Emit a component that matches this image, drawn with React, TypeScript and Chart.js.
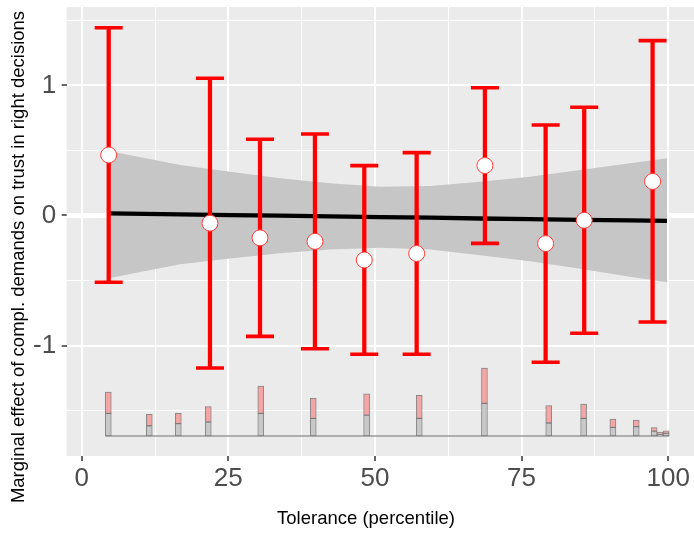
import { useEffect, useRef } from "react";
import { Chart, registerables } from "chart.js";

Chart.register(...registerables);

// axis ticks and titles
const xTicks = [0, 12.5, 25, 37.5, 50, 62.5, 75, 87.5, 100];
const xTickLabels = ["0", "", "25", "", "50", "", "75", "", "100"];
const yTicks = [-1.5, -1, -0.5, 0, 0.5, 1, 1.5];
const yTickLabels = ["", "-1", "", "0", "", "1", ""];
const xRange = [-2.56, 104.4];
const yRange = [-1.8486, 1.6026];
const zeroRef = 0;
const xTitle = "Tolerance (percentile)";
const yTitle = "Marginal effect of compl. demands on trust in right decisions";

// binned estimates (red)
const binX = [4.6, 21.87, 30.4, 39.77, 48.18, 57.11, 68.75, 79.1, 85.68, 97.34];
const binEffect = [0.465, -0.059, -0.172, -0.199, -0.342, -0.292, 0.384, -0.216, -0.037, 0.262];
const binLow = [-0.513, -1.172, -0.929, -1.024, -1.067, -1.067, -0.214, -1.128, -0.905, -0.819];
const binHigh = [1.443, 1.055, 0.586, 0.626, 0.383, 0.483, 0.982, 0.696, 0.832, 1.344];

// linear marginal effect and its confidence band
const fitX = [4.6, 16.8, 25.3, 33.8, 42.3, 50.9, 59.4, 67.9, 76.4, 85, 93.5, 99.8];
const fitY = [0.017, 0.009, 0.003, -0.001, -0.007, -0.012, -0.017, -0.023, -0.028, -0.033, -0.038, -0.042];
const bandHigh = [0.496, 0.388, 0.337, 0.286, 0.247, 0.221, 0.227, 0.26, 0.298, 0.35, 0.401, 0.44];
const bandLow = [-0.483, -0.375, -0.33, -0.29, -0.262, -0.247, -0.262, -0.305, -0.352, -0.41, -0.47, -0.513];

// distribution histogram at the bottom
const histX = [4.53, 11.52, 16.47, 21.58, 30.53, 39.48, 48.58, 57.55, 68.67, 79.63, 85.58, 90.57, 94.55, 97.6, 98.6, 99.66];
const histGrey = [0.174, 0.079, 0.095, 0.108, 0.174, 0.136, 0.161, 0.136, 0.251, 0.1, 0.136, 0.067, 0.072, 0.038, 0.01, 0.021];
const histPink = [0.164, 0.088, 0.08, 0.118, 0.21, 0.154, 0.164, 0.177, 0.271, 0.133, 0.11, 0.064, 0.051, 0.026, 0.021, 0.018];
const histBase = -1.695;
const histBinWidth = 1;

const FONT = "'Liberation Sans', Arial, sans-serif";

export default function App() {
  const ref = useRef<HTMLCanvasElement>(null);

  useEffect(() => {
    document.body.style.margin = "0";
    const canvas = ref.current;
    if (!canvas) return;

    const panelBg = {
      id: "panelBg",
      beforeDraw(chart: any) {
        const { ctx, chartArea: a } = chart;
        ctx.save();
        ctx.fillStyle = "#ebebeb";
        ctx.fillRect(a.left, a.top, a.right - a.left, a.bottom - a.top);
        ctx.restore();
      },
    };
    const zeroLine = {
      id: "zeroLine",
      beforeDatasetsDraw(chart: any) {
        const { ctx, chartArea: a } = chart;
        const y = chart.scales.y.getPixelForValue(zeroRef);
        ctx.save();
        ctx.strokeStyle = "#ffffff";
        ctx.lineWidth = 5;
        ctx.beginPath();
        ctx.moveTo(a.left, y);
        ctx.lineTo(a.right, y);
        ctx.stroke();
        ctx.restore();
      },
    };
    const axisTitles = {
      id: "axisTitles",
      afterDraw(chart: any) {
        const { ctx } = chart;
        ctx.save();
        ctx.fillStyle = "#000000";
        ctx.font = `18.5px ${FONT}`;
        ctx.textAlign = "center";
        ctx.textBaseline = "middle";
        ctx.fillText(xTitle, 366, 519);
        ctx.translate(19, 257);
        ctx.rotate(-Math.PI / 2);
        ctx.fillText(yTitle, 0, 0);
        ctx.restore();
      },
    };

    const isMajorX = (v: number) => v % 25 === 0;
    const isMajorY = (v: number) => Number.isInteger(v);

    const chart = new Chart(canvas, {
      type: "scatter",
      data: {
        datasets: [
          {
            type: "line",
            label: "bandHigh",
            data: fitX.map((x, i) => ({ x, y: bandHigh[i] })),
            borderWidth: 0,
            pointRadius: 0,
            backgroundColor: "#c6c6c6",
            fill: "+1",
            order: 8,
          } as any,
          {
            type: "line",
            label: "bandLow",
            data: fitX.map((x, i) => ({ x, y: bandLow[i] })),
            borderWidth: 0,
            pointRadius: 0,
            fill: false,
            order: 9,
          },
          {
            type: "line",
            label: "fit",
            data: fitX.map((x, i) => ({ x, y: fitY[i] })),
            borderColor: "#000000",
            borderWidth: 4.3,
            pointRadius: 0,
            fill: false,
            order: 6,
          },
          {
            type: "line",
            label: "histBaseline",
            data: [
              { x: histX[0] - histBinWidth / 2, y: histBase },
              { x: histX[histX.length - 1] + histBinWidth / 2, y: histBase },
            ],
            borderColor: "#9a9a9a",
            borderWidth: 1.5,
            pointRadius: 0,
            fill: false,
            order: 5,
          },
          {
            type: "bar",
            label: "histGrey",
            data: histX.map((x, i) => ({ x, y: [histBase, histBase + histGrey[i]] })),
            backgroundColor: "#c8c8c8",
            borderColor: "rgba(110,110,110,0.8)",
            borderWidth: 1,
            borderSkipped: false,
            barThickness: 6,
            grouped: false,
            order: 4,
          } as any,
          {
            type: "bar",
            label: "histPink",
            data: histX.map((x, i) => ({
              x,
              y: [histBase + histGrey[i], histBase + histGrey[i] + histPink[i]],
            })),
            backgroundColor: "#f4a5a5",
            borderColor: "rgba(110,110,110,0.8)",
            borderWidth: 1,
            borderSkipped: false,
            barThickness: 6,
            grouped: false,
            order: 3,
          } as any,
          {
            type: "bar",
            label: "errorbars",
            data: binX.map((x, i) => ({ x, y: [binLow[i], binHigh[i]] })),
            backgroundColor: "#ff0000",
            borderWidth: 0,
            barThickness: 3.6,
            grouped: false,
            order: 2,
          } as any,
          {
            type: "scatter",
            label: "caps",
            data: [
              ...binX.map((x, i) => ({ x, y: binHigh[i] })),
              ...binX.map((x, i) => ({ x, y: binLow[i] })),
            ],
            pointStyle: "line",
            pointRadius: 14,
            borderColor: "#ff0000",
            borderWidth: 3.6,
            order: 1,
          },
          {
            type: "scatter",
            label: "estimates",
            data: binX.map((x, i) => ({ x, y: binEffect[i] })),
            pointStyle: "circle",
            pointRadius: 8,
            backgroundColor: "#ffffff",
            borderColor: "#ff3b3b",
            borderWidth: 1,
            order: 0,
          },
        ],
      },
      options: {
        responsive: false,
        animation: false,
        events: [],
        layout: { autoPadding: false, padding: { top: 7, left: 0, right: 0, bottom: 0 } },
        plugins: {
          legend: { display: false },
          tooltip: { enabled: false },
        },
        scales: {
          x: {
            type: "linear",
            min: xRange[0],
            max: xRange[1],
            offset: false,
            stacked: false,
            afterBuildTicks: (s: any) => {
              s.ticks = xTicks.map((v) => ({ value: v }));
            },
            afterFit: (s: any) => {
              s.height = 77;
              s.paddingLeft = 0;
              s.paddingRight = 0;
            },
            border: { display: false },
            grid: {
              offset: false,
              color: "#ffffff",
              lineWidth: (c: any) => (isMajorX(c.tick.value) ? 2 : 1),
              tickColor: (c: any) => (isMajorX(c.tick.value) ? "#333333" : "rgba(0,0,0,0)"),
              tickWidth: 1.5,
              tickLength: 5,
            },
            ticks: {
              autoSkip: false,
              maxRotation: 0,
              padding: 2,
              color: "#4d4d4d",
              font: { family: FONT, size: 26 },
              callback: (v: any) => xTickLabels[xTicks.indexOf(Number(v))] ?? "",
            },
            title: { display: false },
          },
          y: {
            type: "linear",
            min: yRange[0],
            max: yRange[1],
            stacked: false,
            afterBuildTicks: (s: any) => {
              s.ticks = yTicks.map((v) => ({ value: v }));
            },
            afterFit: (s: any) => {
              s.width = 66.7;
              s.paddingTop = 0;
              s.paddingBottom = 0;
            },
            border: { display: false },
            grid: {
              color: "#ffffff",
              lineWidth: (c: any) => (isMajorY(c.tick.value) ? 2 : 1),
              tickColor: (c: any) => (isMajorY(c.tick.value) ? "#333333" : "rgba(0,0,0,0)"),
              tickWidth: 1.5,
              tickLength: 5,
            },
            ticks: {
              autoSkip: false,
              padding: 5.5,
              color: "#4d4d4d",
              font: { family: FONT, size: 26 },
              callback: (v: any) => yTickLabels[yTicks.indexOf(Number(v))] ?? "",
            },
            title: { display: false },
          },
        },
      },
      plugins: [panelBg, zeroLine, axisTitles],
    } as any);

    return () => chart.destroy();
  }, []);

  return <canvas ref={ref} width={694} height={533} style={{ display: "block" }} />;
}
